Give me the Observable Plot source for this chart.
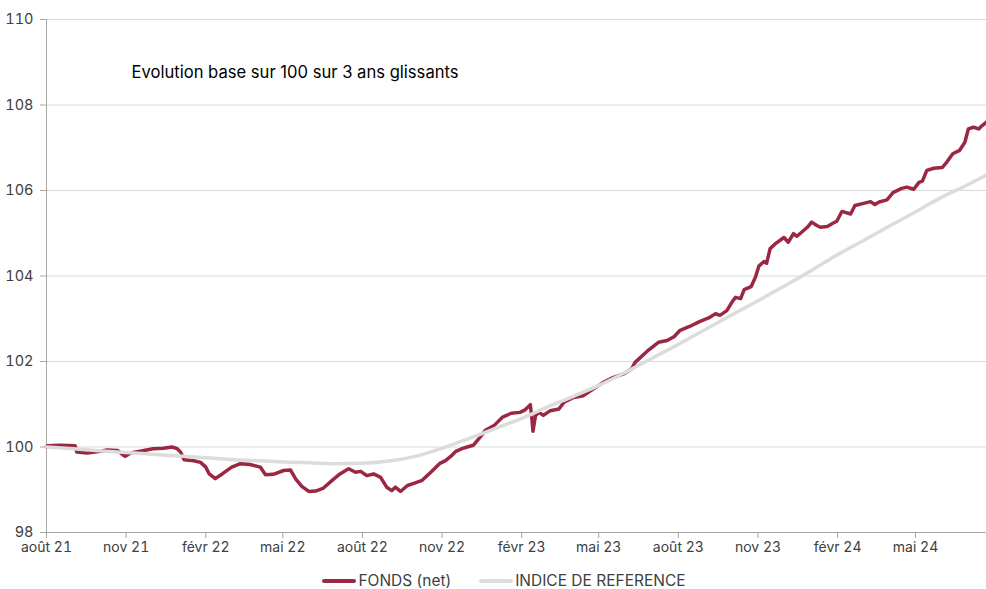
<!DOCTYPE html>
<html>
<head>
<meta charset="utf-8">
<script src="https://cdn.jsdelivr.net/npm/d3@7"></script>
<script src="https://cdn.jsdelivr.net/npm/@observablehq/plot@0.6"></script>
<style>
  html, body { margin: 0; background: #fff; font-family: Inter, "Noto Sans", sans-serif; overflow: hidden; }
  #chart svg { display: block; }
  #legend { display: flex; justify-content: center; align-items: center; gap: 28px; padding-left: 22px; margin-top: 12px; height: 17px; line-height: 17px; font-size: 15.5px; color: #404040; }
  .item { display: flex; align-items: center; }
  .sw { width: 34px; height: 4px; margin-right: 2px; border-radius: 2px; }
</style>
</head>
<body>
<div id="chart"></div>
<div id="legend"></div>
<script>
const title = "Evolution base sur 100 sur 3 ans glissants";
const seriesNames = ["FONDS (net)", "INDICE DE REFERENCE"];
const seriesColors = ["#9b2743", "#dcdcdc"];

const fundDates = [
"2021-08-01","2021-08-02","2021-08-17","2021-09-03","2021-09-05","2021-09-17","2021-10-02","2021-10-10","2021-10-22","2021-10-28",
"2021-10-31","2021-11-06","2021-11-17","2021-12-02","2021-12-14","2021-12-24","2021-12-30","2022-01-03","2022-01-07","2022-01-18",
"2022-01-26","2022-02-01","2022-02-05","2022-02-12","2022-02-20","2022-03-03","2022-03-13","2022-03-24","2022-04-05","2022-04-11",
"2022-04-20","2022-05-02","2022-05-10","2022-05-16","2022-05-23","2022-05-31","2022-06-08","2022-06-17","2022-06-27","2022-07-06",
"2022-07-16","2022-07-24","2022-07-30","2022-08-06","2022-08-14","2022-08-22","2022-08-29","2022-09-04","2022-09-08","2022-09-14",
"2022-09-22","2022-10-01","2022-10-09","2022-10-19","2022-10-29","2022-11-05","2022-11-11","2022-11-17","2022-11-24","2022-11-30",
"2022-12-07","2022-12-15","2022-12-21","2022-12-31","2023-01-10","2023-01-20","2023-01-30","2023-02-05","2023-02-11","2023-02-13",
"2023-02-14","2023-02-17","2023-02-21","2023-02-26","2023-03-06","2023-03-16","2023-03-22","2023-04-02","2023-04-13","2023-04-25",
"2023-05-07","2023-05-18","2023-05-30","2023-06-08","2023-06-12","2023-06-26","2023-07-09","2023-07-19","2023-07-27","2023-08-03",
"2023-08-14","2023-08-26","2023-09-05","2023-09-13","2023-09-18","2023-09-26","2023-10-02","2023-10-06","2023-10-12","2023-10-16",
"2023-10-24","2023-10-29","2023-11-02","2023-11-08","2023-11-11","2023-11-15","2023-11-22","2023-12-01","2023-12-06","2023-12-12",
"2023-12-16","2023-12-28","2024-01-02","2024-01-08","2024-01-12","2024-01-20","2024-01-27","2024-01-31","2024-02-06","2024-02-16",
"2024-02-21","2024-03-02","2024-03-10","2024-03-15","2024-03-20","2024-03-29","2024-04-05","2024-04-15","2024-04-21","2024-04-29",
"2024-05-05","2024-05-09","2024-05-14","2024-05-22","2024-06-01","2024-06-06","2024-06-13","2024-06-21","2024-06-27","2024-07-01",
"2024-07-07","2024-07-13","2024-07-17","2024-07-22"];
const fundValues = [
100.00,100.03,100.04,100.03,99.88,99.86,99.90,99.93,99.92,99.82,
99.78,99.86,99.90,99.96,99.97,100.00,99.96,99.88,99.70,99.68,
99.64,99.53,99.37,99.26,99.37,99.53,99.61,99.59,99.53,99.35,
99.36,99.45,99.46,99.25,99.08,98.96,98.97,99.04,99.22,99.37,
99.49,99.41,99.43,99.33,99.37,99.29,99.06,98.98,99.06,98.96,
99.10,99.16,99.22,99.41,99.61,99.68,99.78,99.90,99.96,100.00,
100.04,100.23,100.39,100.50,100.70,100.79,100.81,100.87,100.99,100.62,
100.37,100.74,100.81,100.74,100.85,100.89,101.05,101.16,101.20,101.36,
101.52,101.63,101.71,101.83,101.98,102.24,102.45,102.49,102.58,102.73,
102.82,102.94,103.02,103.12,103.08,103.19,103.39,103.50,103.47,103.68,
103.75,103.97,104.23,104.34,104.30,104.64,104.77,104.90,104.79,104.99,
104.93,105.14,105.26,105.18,105.14,105.16,105.24,105.28,105.51,105.45,
105.65,105.70,105.74,105.67,105.73,105.78,105.95,106.05,106.08,106.03,
106.19,106.22,106.47,106.52,106.54,106.66,106.86,106.94,107.13,107.44,
107.48,107.44,107.52,107.60];

const refDates = [
"2021-08-01","2021-09-01","2021-10-01","2021-11-01","2021-12-01","2022-01-01","2022-02-01","2022-03-01","2022-04-01","2022-05-01",
"2022-06-01","2022-07-01","2022-08-01","2022-09-01","2022-10-01","2022-11-01","2022-12-01","2023-01-01","2023-02-01","2023-03-01",
"2023-04-01","2023-05-01","2023-06-01","2023-07-01","2023-08-01","2023-09-01","2023-10-01","2023-11-01","2023-12-01","2024-01-01",
"2024-02-01","2024-03-01","2024-04-01","2024-05-01","2024-06-01","2024-07-01","2024-07-22"];
const refValues = [
100.00,99.96,99.91,99.87,99.83,99.79,99.75,99.71,99.68,99.65,
99.63,99.61,99.62,99.67,99.78,99.97,100.19,100.43,100.67,100.92,
101.18,101.44,101.75,102.07,102.40,102.75,103.08,103.42,103.76,104.12,
104.50,104.82,105.17,105.50,105.85,106.14,106.36];

const xTickDates = ["2021-08-01","2021-11-01","2022-02-01","2022-05-01","2022-08-01","2022-11-01","2023-02-01","2023-05-01","2023-08-01","2023-11-01","2024-02-01","2024-05-01"];
const xTickLabels = ["août 21","nov 21","févr 22","mai 22","août 22","nov 22","févr 23","mai 23","août 23","nov 23","févr 24","mai 24"];
const yTicks = [98,100,102,104,106,108,110];
const xDomain = ["2021-08-01","2024-07-22"];

const parse = d3.utcParse("%Y-%m-%d");
const fund = fundDates.map((d,i) => ({date: parse(d), value: fundValues[i]}));
const ref = refDates.map((d,i) => ({date: parse(d), value: refValues[i]}));
const tickDates = xTickDates.map(parse);

const chart = Plot.plot({
  width: 986,
  height: 560,
  marginLeft: 46,
  marginRight: 0,
  marginTop: 19,
  marginBottom: 28,
  style: {fontFamily: "Inter, 'Noto Sans', sans-serif", fontSize: "14px", color: "#404040", background: "#fff"},
  x: {type: "utc", domain: xDomain.map(parse)},
  y: {domain: [98, 110]},
  marks: [
    Plot.ruleY(yTicks.filter(v => v > 98), {stroke: "#d9d9d9", strokeWidth: 1}),
    Plot.ruleY([98], {stroke: "#a6a6a6", strokeWidth: 1}),
    Plot.ruleX([parse(xDomain[0])], {stroke: "#a6a6a6", strokeWidth: 1}),
    Plot.axisY({ticks: yTicks, tickSize: 6, tickPadding: 7, stroke: "#a6a6a6", label: null, fill: "#404040", fontSize: 14.5}),
    Plot.axisX({ticks: tickDates, tickSize: 6, tickPadding: 4, stroke: "#a6a6a6", label: null, fill: "#404040", fontSize: 14,
      tickFormat: (d) => xTickLabels[tickDates.findIndex(t => +t === +d)]}),
    Plot.line(fund, {x: "date", y: "value", stroke: seriesColors[0], strokeWidth: 3.5, curve: "linear"}),
    Plot.line(ref, {x: "date", y: "value", stroke: seriesColors[1], strokeWidth: 3.5, curve: "monotone-x"}),
    Plot.text([title], {frameAnchor: "top-left", dx: 85, dy: 53, textAnchor: "start", lineAnchor: "middle", fill: "#000", fontSize: 16.6})
  ]
});
document.getElementById("chart").appendChild(chart);

const legend = document.getElementById("legend");
seriesNames.forEach((name, i) => {
  const item = document.createElement("div");
  item.className = "item";
  const sw = document.createElement("span");
  sw.className = "sw";
  sw.style.background = seriesColors[i];
  const lab = document.createElement("span");
  lab.textContent = name;
  item.appendChild(sw);
  item.appendChild(lab);
  legend.appendChild(item);
});
</script>
</body>
</html>
